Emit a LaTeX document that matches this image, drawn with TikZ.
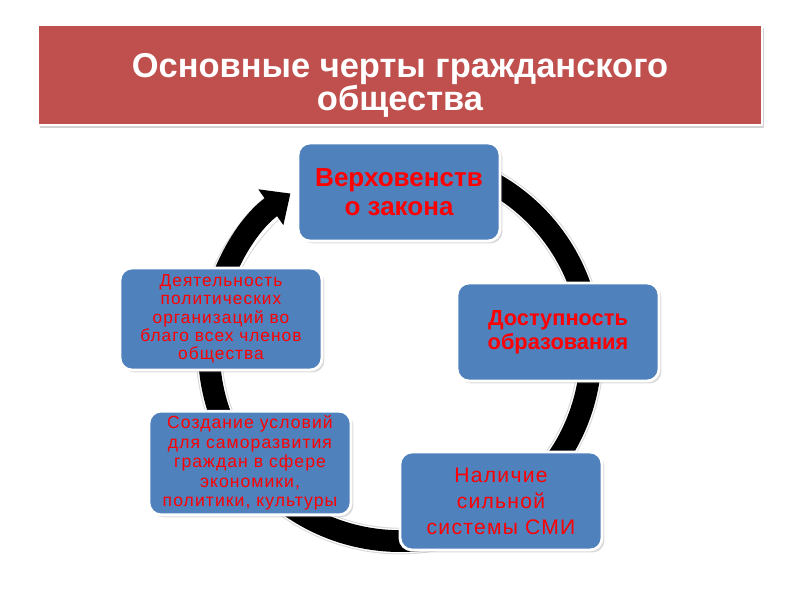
\documentclass[tikz,border=0pt]{standalone}
\usepackage{fontspec}
\setmainfont{Liberation Sans}
\newfontfamily\widefont[LetterSpace=6]{Liberation Sans}
\usepackage{xcolor}
\usetikzlibrary{arrows.meta,shadows}
\definecolor{titlered}{HTML}{C0504D}
\definecolor{boxblue}{HTML}{4F81BD}
\definecolor{textred}{HTML}{FF0000}

\begin{document}
\begin{tikzpicture}[
    x=0.025cm, y=0.025cm,
    % Styles
    banner/.style={% For the title bar
        rectangle,
        fill=titlered,
        draw=white,
        line width=1.5pt,
        minimum width=18.1cm,
        minimum height=2.5cm,
        drop shadow={opacity=0.35, shadow xshift=0.5mm, shadow yshift=-0.8mm},
        },
    bannertext/.style={% For the title words
        text=white,
        align=center,
        font=\bfseries\fontsize{24.5}{23.5}\selectfont,
        },
    feature/.style={% For the blue boxes
        rectangle,
        rounded corners=3mm,
        fill=boxblue,
        draw=white,
        line width=2pt,
        minimum width=5.05cm,
        minimum height=2.45cm,
        text=textred,
        align=center,
        drop shadow={opacity=0.3, shadow xshift=0.6mm, shadow yshift=-0.6mm},
        },
    ring/.style={% For the circular arrow
        line width=15.5pt,
        -{Triangle[length=17pt, width=30pt]},
        },
    ringglow/.style={% Faint outline round the arrow
        line width=19pt,
        draw=gray!30,
        },
    ]

    % Page
    \useasboundingbox (0,0) rectangle (800,600);

    % Title
    \node [banner] (title) at (400,525) {};
    \node [bannertext] (titletext) at (400,515)
        {Основные черты гражданского\\общества};

    % The arrow round the boxes
    \coordinate (ctr) at (400,250);
    \draw [ringglow] (ctr) ++(80:4.775cm)
        arc[start angle=80, end angle=-229, radius=4.775cm];
    \draw [white, line width=17.5pt] (ctr) ++(80:4.775cm)
        arc[start angle=80, end angle=-229, radius=4.775cm];
    \draw [ring] (ctr) ++(80:4.775cm)
        arc[start angle=80, end angle=-235, radius=4.775cm];

    % Boxes, clockwise from the top
    \node [feature, font=\bfseries\fontsize{18.5}{20.5}\selectfont] (law) at (399,408)
        {Верховенств\\о закона};
    \node [feature, font=\bfseries\fontsize{15.5}{17}\selectfont] (edu) at (558,268)
        {Доступность\\образования};
    \node [feature, font=\widefont\fontsize{15}{18.4}\selectfont] (media) at (501,99)
        {Наличие\\сильной\\системы СМИ};
    \node [feature, minimum height=2.52cm, font=\widefont\fontsize{12.5}{13.8}\selectfont] (self) at (250,137)
        {Создание условий\\для саморазвития\\граждан в сфере\\экономики,\\политики, культуры};
    \node [feature, minimum height=2.55cm, font=\widefont\fontsize{12.3}{13}\selectfont] (orgs) at (221,281)
        {Деятельность\\политических\\организаций во\\благо всех членов\\общества};

\end{tikzpicture}
\end{document}
